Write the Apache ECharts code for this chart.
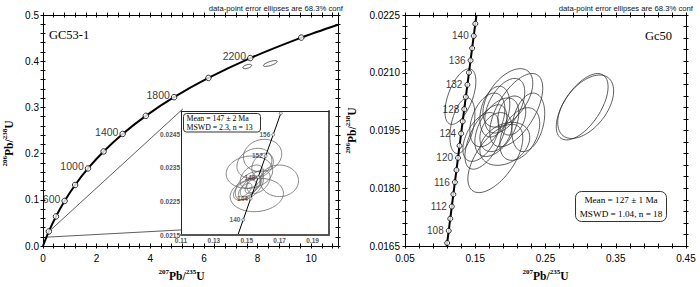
<!DOCTYPE html>
<html><head><meta charset="utf-8">
<script src="https://cdn.jsdelivr.net/npm/echarts@6/dist/echarts.min.js"></script>
<style>html,body{margin:0;padding:0;background:#fff}#c{width:700px;height:287px}</style>
</head><body><div id="c"></div>
<script>
// ================= DATA =================
// Left main concordia (GC53-1): age markers (Ma) and their 207Pb/235U, 206Pb/238U positions
const mainAges = [200,400,600,800,1000,1200,1400,1600,1800,2000,2200,2400];
const mainX = [0.218,0.483,0.806,1.199,1.677,2.260,2.970,3.834,4.887,6.169,7.729,9.630];
const mainY = [0.0315,0.0640,0.0975,0.1321,0.1678,0.2046,0.2426,0.2817,0.3221,0.3638,0.4067,0.4511];
const mainCurveStart = [0, 0];
const mainCurveEnd = [11, 0.479];
const mainLabeledAges = [600,1000,1400,1800,2200];
// ellipses: [x, y, half-width x, half-height y, correlation]
const mainEllipses = [
  [7.615, 0.3885, 0.165, 0.0046, 0.5],
  [8.476, 0.3950, 0.256, 0.0063, 0.7]
];
const connectorUpper = [[0.18, 0.029], [5.22, 0.297]];
const connectorLower = [[0.09, 0.019], [5.22, 0.035]];

// Inset (zoom of GC53-1)
const insetAges = [140,144,148,152,156,160];
const insetX = [0.14784,0.15237,0.15692,0.16149,0.16607,0.17068];
const insetY = [0.021955,0.022589,0.023224,0.023859,0.024495,0.025131];
const insetCurveStart = [0.14332, 0.021321];
const insetLabeledAges = [140,144,148,152,156];
const insetEllipses = [
  [0.1516, 0.023374, 0.01414, 0.000483, 0.1],
  [0.1596, 0.023872, 0.01165, 0.000483, 0.1],
  [0.1698, 0.023117, 0.01165, 0.000471, 0.0],
  [0.1561, 0.022694, 0.01620, 0.000498, 0.1],
  [0.1546, 0.023639, 0.01062, 0.000448, 0.2],
  [0.1516, 0.022968, 0.00862, 0.000424, 0.5],
  [0.1521, 0.022941, 0.00607, 0.000298, 0.6],
  [0.1490, 0.022843, 0.00710, 0.000298, 0.5],
  [0.1571, 0.023090, 0.00710, 0.000349, 0.4],
  [0.1596, 0.023589, 0.00655, 0.000349, 0.3],
  [0.1531, 0.023240, 0.00710, 0.000349, 0.4],
  [0.1541, 0.022992, 0.00504, 0.000248, 0.6],
  [0.1490, 0.022843, 0.00407, 0.000200, 0.6]
];

// Right chart (Gc50)
const rightAges = [106,108,110,112,114,116,118,120,122,124,126,128,130,132,134,136,138,140,142];
const rightX = [0.110038,0.112226,0.114419,0.116617,0.118818,0.121024,0.123234,0.125449,0.127668,0.129891,
                0.132119,0.134351,0.136588,0.138829,0.141074,0.143324,0.145578,0.147837,0.150100];
const rightY = [0.016579,0.016895,0.017210,0.017526,0.017842,0.018157,0.018473,0.018789,0.019105,0.019422,
                0.019738,0.020054,0.020371,0.020688,0.021004,0.021321,0.021638,0.021955,0.022272];
const rightCurveStart = [0.10949, 0.0165];
const rightCurveEnd = [0.15173, 0.0225];
const rightLabeledAges = [108,112,116,120,124,128,132,136,140];
const rightEllipses = [
  [0.1289, 0.020380, 0.0220, 0.000722, 0.55],
  [0.1317, 0.019623, 0.0178, 0.000722, 0.40],
  [0.1651, 0.019332, 0.0298, 0.000837, 0.60],
  [0.1786, 0.018774, 0.0391, 0.000887, 0.60],
  [0.1779, 0.019991, 0.0213, 0.000659, 0.30],
  [0.1964, 0.020346, 0.0355, 0.000760, 0.50],
  [0.2084, 0.020029, 0.0377, 0.000951, 0.60],
  [0.2255, 0.019712, 0.0234, 0.000760, 0.30],
  [0.1921, 0.019154, 0.0355, 0.000558, 0.30],
  [0.1672, 0.019775, 0.0249, 0.000697, 0.40],
  [0.2134, 0.019408, 0.0284, 0.000684, 0.40],
  [0.1807, 0.019585, 0.0313, 0.000760, 0.50],
  [0.1580, 0.019332, 0.0256, 0.000634, 0.50],
  [0.1921, 0.020143, 0.0284, 0.000710, 0.50],
  [0.2020, 0.019889, 0.0199, 0.000507, 0.20],
  [0.1793, 0.019458, 0.0227, 0.000507, 0.30],
  [0.3022, 0.020117, 0.0369, 0.000862, 0.60],
  [0.3072, 0.020117, 0.0398, 0.000824, 0.50]
];

// Tick labels
const leftXTickValues = [0,2,4,6,8,10];
const leftXTickLabels = ['0','2','4','6','8','10'];
const leftYTickValues = [0,0.1,0.2,0.3,0.4,0.5];
const leftYTickLabels = ['0.0','0.1','0.2','0.3','0.4','0.5'];
const insetXTickValues = [0.11,0.13,0.15,0.17,0.19];
const insetXTickLabels = ['0.11','0.13','0.15','0.17','0.19'];
const insetYTickValues = [0.0215,0.0225,0.0235,0.0245];
const insetYTickLabels = ['0.0215','0.0225','0.0235','0.0245'];
const rightXTickValues = [0.05,0.15,0.25,0.35,0.45];
const rightXTickLabels = ['0.05','0.15','0.25','0.35','0.45'];
const rightYTickValues = [0.0165,0.0180,0.0195,0.0210,0.0225];
const rightYTickLabels = ['0.0165','0.0180','0.0195','0.0210','0.0225'];

// ================= CHART =================
const SANS = 'Liberation Sans';
const SERIF = 'Liberation Serif';

function fmt(values, labels, offset, unit) {
  return function (v) {
    const real = offset + v * unit;
    for (let i = 0; i < values.length; i++) {
      if (Math.abs(values[i] - real) < unit * 1e-3) return labels[i];
    }
    return '';
  };
}

const xAxes = [], yAxes = [];
function add(list, o) { list.push(o); return list.length - 1; }

// data axes (hidden)
const LX = add(xAxes, {type:'value', gridIndex:0, min:0, max:11, show:false});
const LY = add(yAxes, {type:'value', gridIndex:0, min:0, max:0.5, show:false});
const IX = add(xAxes, {type:'value', gridIndex:1, min:0.11, max:0.20, show:false});
const IY = add(yAxes, {type:'value', gridIndex:1, min:0.0215, max:0.0252, show:false});
const RX = add(xAxes, {type:'value', gridIndex:2, min:0.05, max:0.45, show:false});
const RY = add(yAxes, {type:'value', gridIndex:2, min:0.0165, max:0.0225, show:false});

function tickAxes(list, dim, grid, span, interval, formatter, margin) {
  const sides = dim === 'x' ? ['bottom','top'] : ['left','right'];
  sides.forEach(function (pos, si) {
    [false, true].forEach(function (inside, ii) {
      add(list, {
        type:'value', gridIndex:grid, position:pos, min:0, max:span, interval:interval,
        axisLine:{show: ii === 0, onZero:false, lineStyle:{color:'#000', width:1}},
        axisTick:{show:true, inside:inside, length:2.5, lineStyle:{color:'#000', width:1}},
        axisLabel:{show: si === 0 && ii === 0, formatter:formatter, margin:margin,
                   fontFamily:SANS, fontSize:10, color:'#000'},
        splitLine:{show:false}
      });
    });
  });
}
tickAxes(xAxes, 'x', 0, 110, 4, fmt(leftXTickValues, leftXTickLabels, 0, 0.1), 7);
tickAxes(yAxes, 'y', 0, 50, 2, fmt(leftYTickValues, leftYTickLabels, 0, 0.01), 4);
tickAxes(xAxes, 'x', 2, 40, 2, fmt(rightXTickValues, rightXTickLabels, 0.05, 0.01), 7);
tickAxes(yAxes, 'y', 2, 60, 3, fmt(rightYTickValues, rightYTickLabels, 0.0165, 0.0001), 5);

// inset frame axes
add(xAxes, {type:'value', gridIndex:1, position:'bottom', min:0, max:9, interval:2, z:20,
  axisLine:{show:true, onZero:false, lineStyle:{color:'#555', width:2}}, axisTick:{show:false},
  axisLabel:{formatter:fmt(insetXTickValues, insetXTickLabels, 0.11, 0.01), margin:2,
             fontFamily:SANS, fontSize:6.5, fontWeight:'bold', color:'#555'}, splitLine:{show:false}});
add(xAxes, {type:'value', gridIndex:1, position:'top', min:0, max:9, interval:2, z:20,
  axisLine:{show:true, onZero:false, lineStyle:{color:'#222', width:1}}, axisTick:{show:false},
  axisLabel:{show:false}, splitLine:{show:false}});
add(yAxes, {type:'value', gridIndex:1, position:'left', min:0, max:37, interval:10, z:20,
  axisLine:{show:true, onZero:false, lineStyle:{color:'#222', width:1}}, axisTick:{show:false},
  axisLabel:{formatter:fmt(insetYTickValues, insetYTickLabels, 0.0215, 0.0001), margin:1,
             fontFamily:SANS, fontSize:6.5, fontWeight:'bold', color:'#555'}, splitLine:{show:false}});
add(yAxes, {type:'value', gridIndex:1, position:'right', min:0, max:37, interval:10, z:20,
  axisLine:{show:true, onZero:false, lineStyle:{color:'#555', width:2}}, axisTick:{show:false},
  axisLabel:{show:false}, splitLine:{show:false}});

// axis names (on the labelled tick axes)
function nameRich(a, b, c, d) {
  return '{s|' + a + '}{b|' + b + '}{s|' + c + '}{b|' + d + '}';
}
const richName = {
  s:{fontFamily:SERIF, fontWeight:'bold', fontSize:7, lineHeight:8, verticalAlign:'top', color:'#000'},
  b:{fontFamily:SERIF, fontWeight:'bold', fontSize:11.5, lineHeight:14, verticalAlign:'bottom', color:'#000'}
};
function setName(axis, text, gap, rotate, padding) {
  axis.name = text; axis.nameLocation = 'middle'; axis.nameGap = gap;
  if (rotate) axis.nameRotate = rotate;
  axis.nameTextStyle = {rich: richName, padding: padding || 0};
}
xAxes.forEach(function (a) {
  if (a.axisLabel && a.axisLabel.show && a.position === 'bottom' && a.gridIndex === 0) setName(a, nameRich('207','Pb/','235','U'), 22, 0, [0,18,0,0]);
  if (a.axisLabel && a.axisLabel.show && a.position === 'bottom' && a.gridIndex === 2) setName(a, nameRich('207','Pb/','235','U'), 22, 0);
});
yAxes.forEach(function (a) {
  if (a.axisLabel && a.axisLabel.show && a.position === 'left' && a.gridIndex === 0) setName(a, nameRich('206','Pb/','238','U'), 28, 90, [0,26,0,0]);
  if (a.axisLabel && a.axisLabel.show && a.position === 'left' && a.gridIndex === 2) setName(a, nameRich('206','Pb/','238','U'), 47, 90);
});

function ellipseRender(color, width) {
  return function (params, api) {
    const x0 = api.value(0), y0 = api.value(1), sx = api.value(2), sy = api.value(3), r = api.value(4);
    const k = Math.sqrt(1 - r * r);
    const pts = [];
    const N = 80;
    for (let i = 0; i < N; i++) {
      const t = i / N * 2 * Math.PI;
      pts.push(api.coord([x0 + sx * Math.cos(t), y0 + sy * (r * Math.cos(t) + k * Math.sin(t))]));
    }
    return {type:'polygon', shape:{points:pts}, style:{fill:'none', stroke:color, lineWidth:width}, silent:true};
  };
}

function pointsData(ages, xs, ys, labeled) {
  return ages.map(function (a, i) {
    return {value:[xs[i], ys[i]], name:String(a), label:{show: labeled.indexOf(a) >= 0}};
  });
}
function curveData(start, xs, ys, end) {
  const d = [start];
  xs.forEach(function (x, i) { d.push([x, ys[i]]); });
  if (end) d.push(end);
  return d;
}

const series = [
  // main
  {type:'line', xAxisIndex:LX, yAxisIndex:LY, data:curveData(mainCurveStart, mainX, mainY, mainCurveEnd),
   showSymbol:false, smooth:0.3, lineStyle:{color:'#000', width:2}, silent:true, z:3},
  {type:'line', xAxisIndex:LX, yAxisIndex:LY, data:connectorUpper, showSymbol:false,
   lineStyle:{color:'#333', width:0.8}, silent:true, z:2},
  {type:'line', xAxisIndex:LX, yAxisIndex:LY, data:connectorLower, showSymbol:false,
   lineStyle:{color:'#333', width:0.8}, silent:true, z:2},
  {type:'custom', xAxisIndex:LX, yAxisIndex:LY, data:mainEllipses, encode:{x:0, y:1},
   renderItem:ellipseRender('#333', 0.9), z:3},
  {type:'scatter', xAxisIndex:LX, yAxisIndex:LY, data:pointsData(mainAges, mainX, mainY, mainLabeledAges),
   symbol:'circle', symbolSize:5.5, itemStyle:{color:'#fff', borderColor:'#000', borderWidth:1}, z:4, silent:true,
   label:{position:'left', distance:1, offset:[0,-2], formatter:'{b}', fontFamily:SANS, fontSize:10.5, color:'#000'}},
  // inset
  {type:'custom', xAxisIndex:IX, yAxisIndex:IY, data:insetEllipses, encode:{x:0, y:1},
   renderItem:ellipseRender('#666', 0.8), z:12},
  {type:'line', xAxisIndex:IX, yAxisIndex:IY, data:curveData(insetCurveStart, insetX, insetY, null),
   showSymbol:false, lineStyle:{color:'#000', width:1}, silent:true, z:13},
  {type:'scatter', xAxisIndex:IX, yAxisIndex:IY, data:pointsData(insetAges, insetX, insetY, insetLabeledAges),
   symbol:'circle', symbolSize:3, itemStyle:{color:'#fff', borderColor:'#333', borderWidth:0.7}, z:14, silent:true,
   label:{position:'left', distance:1, formatter:'{b}', fontFamily:SANS, fontSize:6.5, fontWeight:'bold', color:'#333'}},
  // right
  {type:'custom', xAxisIndex:RX, yAxisIndex:RY, data:rightEllipses, encode:{x:0, y:1},
   renderItem:ellipseRender('#333', 0.8), z:3},
  {type:'line', xAxisIndex:RX, yAxisIndex:RY, data:curveData(rightCurveStart, rightX, rightY, rightCurveEnd),
   showSymbol:false, lineStyle:{color:'#000', width:2}, silent:true, z:4},
  {type:'scatter', xAxisIndex:RX, yAxisIndex:RY, data:pointsData(rightAges, rightX, rightY, rightLabeledAges),
   symbol:'circle', symbolSize:5, itemStyle:{color:'#fff', borderColor:'#000', borderWidth:1}, z:5, silent:true,
   label:{position:'left', distance:2, formatter:'{b}', fontFamily:SANS, fontSize:10, color:'#000'}}
];

function txt(x, y, text, size, family, align, extra) {
  const st = {text:text, x:x, y:y, fontSize:size, fontFamily:family, fill:'#000',
              align:align, textAlign:align, verticalAlign:'middle', textVerticalAlign:'middle'};
  if (extra) Object.assign(st, extra);
  return {type:'text', z:100, silent:true, style:st};
}

const graphic = [
  txt(343, 8.5, 'data-point error ellipses are 68.3% conf', 7.7, SANS, 'right', {fill:'#111'}),
  txt(693, 8.5, 'data-point error ellipses are 68.3% conf', 7.7, SANS, 'right', {fill:'#111'}),
  txt(49, 34.5, 'GC53-1', 12.5, SERIF, 'left'),
  txt(672, 36, 'Gc50', 12.5, SERIF, 'right'),
  {type:'rect', z:99, silent:true, shape:{x:183.5, y:113.5, width:77, height:18.5, r:3},
   style:{fill:'#fff', stroke:'#333', lineWidth:1}},
  txt(186.5, 118, 'Mean = 147 ± 2 Ma', 7.8, SERIF, 'left'),
  txt(186.5, 127, 'MSWD = 2.3, n = 13', 7.8, SERIF, 'left'),
  {type:'rect', z:99, silent:true, shape:{x:575.5, y:191.5, width:91, height:30, r:6},
   style:{fill:'#fff', stroke:'#333', lineWidth:1}},
  txt(621, 199.5, 'Mean = 127 ± 1 Ma', 9.2, SERIF, 'center'),
  txt(621, 213.5, 'MSWD = 1.04, n = 18', 9.2, SERIF, 'center')
];

const chart = echarts.init(document.getElementById('c'), null, {renderer:'svg'});
chart.setOption({
  animation:false,
  backgroundColor:'#fff',
  grid:[
    {left:38, top:15, width:300, height:237},
    {left:181, top:111, width:148, height:124, show:true, backgroundColor:'#fff', borderWidth:0, z:5},
    {left:405, top:15, width:281, height:237}
  ],
  xAxis:xAxes,
  yAxis:yAxes,
  series:series,
  graphic:graphic
});
</script></body></html>
